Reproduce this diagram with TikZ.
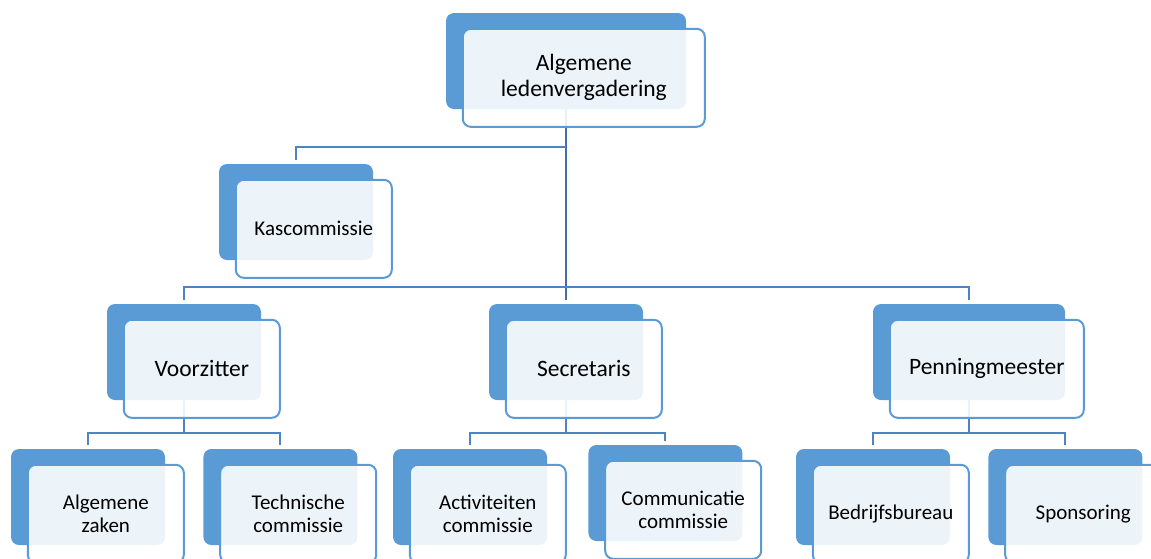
\documentclass[tikz,border=0pt]{standalone}
\usepackage{fontspec}
\setmainfont{Carlito}
\usetikzlibrary{positioning}
\definecolor{boxblue}{HTML}{5B9BD5}
\definecolor{linkblue}{HTML}{4F84C2}
\definecolor{trunkblue}{HTML}{41719C}

\begin{document}
\begin{tikzpicture}[x=1pt,y=-1pt,
        back/.style={fill=boxblue,rounded corners=8pt,inner sep=0pt,minimum width=154pt,minimum height=96pt},
        front/.style={draw=boxblue,line width=2pt,fill=white,fill opacity=0.89,text opacity=1,rounded corners=8pt,
            inner sep=0pt,minimum width=156pt,minimum height=98pt,align=center,anchor=north west},
        large/.style={font=\fontsize{23.5}{26}\selectfont},
        small/.style={font=\fontsize{21}{23.5}\selectfont},
        conn/.style={draw=linkblue,line width=2pt}]
    \useasboundingbox (0,0) rectangle (1151,558);
    % back boxes
    \node [back,minimum width=240pt] (alv) at (566,61) {};
    \node [back] (kas) at (296,212) {};
    \node [back] (voor) at (184,352) {};
    \node [back] (secr) at (566,352) {};
    \node [back,minimum width=192pt] (penn) at (969,352) {};
    \node [back] (algz) at (88,497) {};
    \node [back] (tech) [right=38pt of algz] {};
    \node [back] (act) at (470,497) {};
    \node [back] (comm) [right=41pt of act,yshift=4pt] {};
    \node [back] (bedr) at (873,497) {};
    \node [back] (spon) [right=38pt of bedr] {};
    % connectors
    \draw [conn,draw=trunkblue] (alv.south) -- ([yshift=4pt]secr.north);
    \draw [conn] (alv.south) ++(0,38) -| ([yshift=4pt]kas.north);
    \draw [conn] ([yshift=4pt]voor.north) -- ([yshift=17pt]voor.north) -| ([yshift=4pt]penn.north);
    \draw [conn] (voor.south) -- ([yshift=16pt]algz.north -| voor.south);
    \draw [conn] ([yshift=4pt]algz.north) -- ([yshift=16pt]algz.north) -| ([yshift=4pt]tech.north);
    \draw [conn] (secr.south) -- ([yshift=16pt]act.north -| secr.south);
    \draw [conn] ([yshift=4pt]act.north) -- ([yshift=16pt]act.north) -| ([yshift=4pt]comm.north);
    \draw [conn] (penn.south) -- ([yshift=16pt]bedr.north -| penn.south);
    \draw [conn] ([yshift=4pt]bedr.north) -- ([yshift=16pt]bedr.north) -| ([yshift=4pt]spon.north);
    % front boxes
    \node [front,large,minimum width=242pt] (alv-f) at ([shift={(16,15)}]alv.north west) {Algemene\\ledenvergadering};
    \node [front,small] (kas-f) at ([shift={(16,15)}]kas.north west) {Kascommissie};
    \node [front,large] (voor-f) at ([shift={(16,15)}]voor.north west) {Voorzitter};
    \node [front,large] (secr-f) at ([shift={(16,15)}]secr.north west) {Secretaris};
    \node [front,large,minimum width=194pt] (penn-f) at ([shift={(16,15)}]penn.north west) {Penningmeester};
    \node [front,small] (algz-f) at ([shift={(16,15)}]algz.north west) {Algemene\\zaken};
    \node [front,small] (tech-f) at ([shift={(16,15)}]tech.north west) {Technische\\commissie};
    \node [front,small] (act-f) at ([shift={(16,15)}]act.north west) {Activiteiten\\commissie};
    \node [front,small] (comm-f) at ([shift={(16,15)}]comm.north west) {Communicatie\\commissie};
    \node [front,small] (bedr-f) at ([shift={(16,15)}]bedr.north west) {Bedrijfsbureau};
    \node [front,small] (spon-f) at ([shift={(16,15)}]spon.north west) {Sponsoring};
\end{tikzpicture}
\end{document}
